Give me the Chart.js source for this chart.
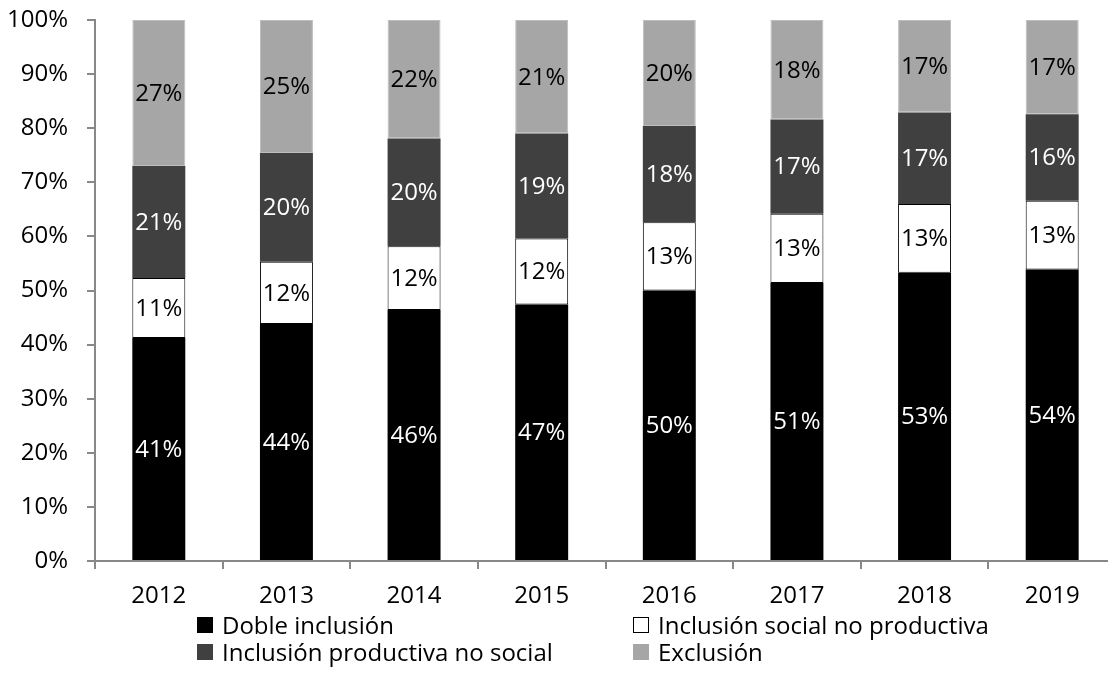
<!DOCTYPE html>
<html>
<head>
<meta charset="utf-8">
<script src="https://cdn.jsdelivr.net/npm/chart.js@4"></script>
<style>
  body { margin: 0; background: #fff; overflow: hidden; }
  #wrap { position: relative; width: 1124px; height: 683px; }
  .leg { position: absolute; display: flex; align-items: center; height: 27px;
         font-family: "Open Sans", sans-serif; font-size: 24px; color: #000; white-space: nowrap; }
  .leg span.box { width: 16px; height: 16px; box-sizing: border-box; margin-right: 9px; }
</style>
</head>
<body>
<div id="wrap">
  <canvas id="chart" width="1124" height="683"></canvas>
</div>
<script>
// data
const years = ['2012', '2013', '2014', '2015', '2016', '2017', '2018', '2019'];
const dobleInclusion = [41.2, 43.8, 46.4, 47.4, 50.0, 51.4, 53.3, 53.9];
const inclusionSocial = [11.1, 11.5, 11.8, 12.2, 12.6, 12.8, 12.7, 12.7];
const inclusionProductiva = [20.7, 20.1, 19.9, 19.4, 17.8, 17.4, 16.9, 16.0];
const exclusion = [27.0, 24.6, 21.9, 21.0, 19.6, 18.4, 17.1, 17.4];
const yTicks = [0, 10, 20, 30, 40, 50, 60, 70, 80, 90, 100];

const seriesNames = ['Doble inclusión', 'Inclusión social no productiva', 'Inclusión productiva no social', 'Exclusión'];
const fills = ['#000000', '#ffffff', '#404040', '#a6a6a6'];
const labelColors = ['#ffffff', '#000000', '#ffffff', '#000000'];
const axisColor = '#888888';
const FONT = '"Open Sans", sans-serif';

// labels in the middle of every segment
const segmentLabels = {
    id: 'segmentLabels',
    afterDatasetsDraw(chart) {
        const ctx = chart.ctx;
        ctx.save();
        ctx.font = '24px ' + FONT;
        ctx.textAlign = 'center';
        ctx.textBaseline = 'middle';
        chart.data.datasets.forEach((ds, i) => {
            const meta = chart.getDatasetMeta(i);
            meta.data.forEach((bar, j) => {
                ctx.fillStyle = labelColors[i];
                ctx.fillText(Math.round(ds.data[j]) + '%', bar.x, (bar.y + bar.base) / 2 + 1);
            });
        });
        ctx.restore();
    }
};

const seriesData = [dobleInclusion, inclusionSocial, inclusionProductiva, exclusion];

new Chart(document.getElementById('chart'), {
    type: 'bar',
    data: {
        labels: years,
        datasets: seriesData.map((d, i) => ({
            label: seriesNames[i],
            data: d,
            backgroundColor: fills[i],
            borderColor: i === 1 ? '#000000' : (i === 3 ? '#bdbdbd' : fills[i]),
            borderWidth: i === 0 || i === 2 ? 0 : 1,
            borderSkipped: false,
            barPercentage: 0.415,
            categoryPercentage: 1
        }))
    },
    options: {
        responsive: false,
        animation: false,
        layout: { padding: { top: 20, right: 8, left: 0, bottom: 0 } },
        plugins: {
            legend: { display: false },
            tooltip: { enabled: false }
        },
        scales: {
            x: {
                stacked: true,
                afterFit: s => { s.height = 122; },
                grid: { offset: true, drawOnChartArea: false, drawTicks: true, tickLength: 8, color: axisColor, lineWidth: 2 },
                border: { color: axisColor, width: 2 },
                ticks: { color: '#000', padding: 13, maxRotation: 0, autoSkip: false, font: { family: FONT, size: 24 } }
            },
            y: {
                stacked: true,
                min: 0,
                max: 100,
                afterFit: s => { s.width = 95; s.paddingTop = 0; s.paddingBottom = 0; },
                afterBuildTicks: s => { s.ticks = yTicks.map(v => ({ value: v })); },
                grid: { drawOnChartArea: false, drawTicks: true, tickLength: 8, color: axisColor, lineWidth: 2 },
                border: { color: axisColor, width: 2 },
                ticks: { color: '#000', padding: 19, font: { family: FONT, size: 24 }, callback: v => v + '%' }
            }
        }
    },
    plugins: [segmentLabels]
});

// legend in two columns, same order as the reference
const legendSpots = [
    { i: 0, left: 197, top: 611 },
    { i: 1, left: 633, top: 611 },
    { i: 2, left: 197, top: 638 },
    { i: 3, left: 633, top: 638 }
];
const wrap = document.getElementById('wrap');
legendSpots.forEach(p => {
    const el = document.createElement('div');
    el.className = 'leg';
    el.style.left = p.left + 'px';
    el.style.top = p.top + 'px';
    const box = document.createElement('span');
    box.className = 'box';
    box.style.background = fills[p.i];
    if (p.i === 1) box.style.border = '1.5px solid #000';
    el.appendChild(box);
    el.appendChild(document.createTextNode(seriesNames[p.i]));
    wrap.appendChild(el);
});
</script>
</body>
</html>
